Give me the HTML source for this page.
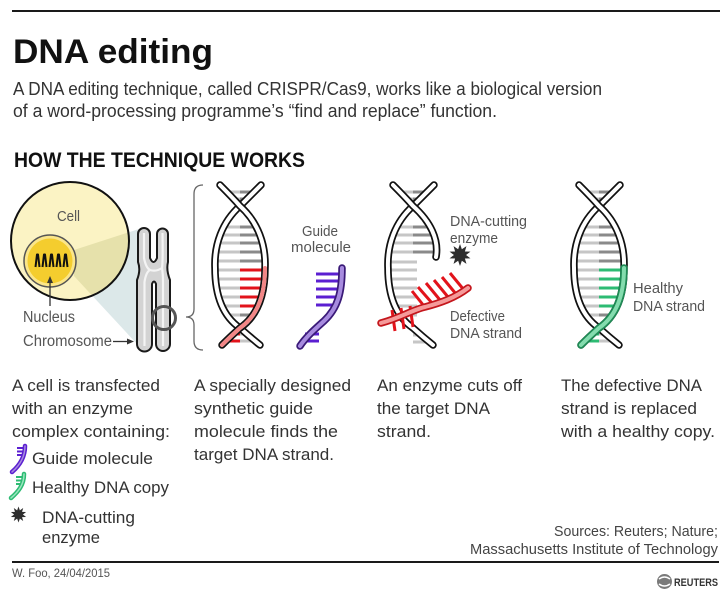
<!DOCTYPE html>
<html><head><meta charset="utf-8"><style>
html,body{margin:0;padding:0;background:#fff;}
svg{display:block;}
text{font-family:"Liberation Sans",sans-serif;}
</style></head><body>
<svg width="728" height="590" viewBox="0 0 728 590" xmlns="http://www.w3.org/2000/svg">
<defs>
<clipPath id="hc"><path d="M220,185 Q232,197 240,206 Q249,197 261,185 Z M240,206 C258,222 266,245 265,268 C265,298 256,317 240,328 C224,317 215,298 215,268 C214,245 222,222 240,206 Z M240,328 Q230,337 222,345 L260,345 Q250,337 240,328 Z"/></clipPath>
<clipPath id="cellc"><ellipse cx="70" cy="241" rx="59" ry="59"/></clipPath>
<path id="star" d="M0,-10 L1.7,-5.23 L5.88,-8.09 L4.45,-3.23 L9.51,-3.09 L5.5,0 L9.51,3.09 L4.45,3.23 L5.88,8.09 L1.7,5.23 L0,10 L-1.7,5.23 L-5.88,8.09 L-4.45,3.23 L-9.51,3.09 L-5.5,0 L-9.51,-3.09 L-4.45,-3.23 L-5.88,-8.09 L-1.7,-5.23 Z"/>
</defs>
<rect width="728" height="590" fill="#fff"/>
<line x1="12" y1="11" x2="720" y2="11" stroke="#1a1a1a" stroke-width="2"/>
<text x="13" y="63" font-size="34" font-weight="bold" fill="#111" textLength="200" lengthAdjust="spacingAndGlyphs">DNA editing</text>
<text x="13" y="95" font-size="18" fill="#333" textLength="589" lengthAdjust="spacingAndGlyphs">A DNA editing technique, called CRISPR/Cas9, works like a biological version</text>
<text x="13" y="117" font-size="18" fill="#333" textLength="484" lengthAdjust="spacingAndGlyphs">of a word-processing programme’s “find and replace” function.</text>
<text x="14" y="167" font-size="21" font-weight="bold" fill="#111" textLength="291" lengthAdjust="spacingAndGlyphs">HOW THE TECHNIQUE WORKS</text>

<!-- Cell -->
<polygon points="74,250 139,229 137,344 74,276" fill="#dce8e9"/>
<ellipse cx="70" cy="241" rx="59" ry="59" fill="#fbf3c4"/>
<polygon points="74,250 139,229 137,344 74,276" fill="#e6e1ab" clip-path="url(#cellc)"/>
<ellipse cx="70" cy="241" rx="59" ry="59" fill="none" stroke="#111" stroke-width="2"/>
<text x="57" y="221" font-size="15" fill="#555" textLength="23" lengthAdjust="spacingAndGlyphs">Cell</text>
<circle cx="50" cy="261" r="26" fill="#fbe68a" stroke="#555" stroke-width="1.5"/>
<circle cx="50" cy="261" r="22.5" fill="#f4cd2e"/>
<g stroke="#111" stroke-width="2" fill="none" stroke-linejoin="round">
<path d="M35.5,267 L37,254.5 L38,254.5 L39.5,267"/>
<path d="M42.5,267 L44,254.5 L45,254.5 L46.5,267"/>
<path d="M49.5,267 L51,254.5 L52,254.5 L53.5,267"/>
<path d="M56.5,267 L58,254.5 L59,254.5 L60.5,267"/>
<path d="M63.5,267 L65,254.5 L66,254.5 L67.5,267"/>
</g>
<line x1="50" y1="306" x2="50" y2="281" stroke="#333" stroke-width="1.3"/>
<polygon points="50,276 47,283 53,283" fill="#333"/>
<text x="23" y="322" font-size="15.5" fill="#555" textLength="52" lengthAdjust="spacingAndGlyphs">Nucleus</text>
<text x="23" y="346" font-size="15.5" fill="#555" textLength="89" lengthAdjust="spacingAndGlyphs">Chromosome</text>
<line x1="113" y1="341.5" x2="129" y2="341.5" stroke="#333" stroke-width="1.3"/>
<polygon points="134,341.5 127,338.5 127,344.5" fill="#333"/>

<!-- Chromosome -->
<path d="M138,234 A6,6 0 0 1 150,234 L150,258 Q153.5,266 157,258 L157,234 A5.5,5.5 0 0 1 168,234 L168,262 Q166,270 170,280 L170,344 A7,7 0 0 1 156,344 L156,284 Q154,279 152,284 L152,344 A7.5,7.5 0 0 1 137,344 L137,280 Q141,270 138,262 Z" fill="#d3d3d3" stroke="#1a1a1a" stroke-width="2"/>
<path d="M144,233 L144,258 Q146,268 150,270 Q156,272 162,268 Q163,262 162.5,233 M144.5,346 L144.5,282 Q146,272 150,270 M162,268 Q163,274 163,282 L163,346" fill="none" stroke="#f4f4f4" stroke-width="2.2"/>
<circle cx="164" cy="318" r="11.5" fill="none" stroke="#555" stroke-width="3"/>

<!-- Brace -->
<path d="M203,185 Q194,185 194,194 L194,309 Q194,317 186,317 Q194,317 194,325 L194,341 Q194,350 203,350" fill="none" stroke="#666" stroke-width="1.3"/>

<!-- Helix 1 -->
<g>
<g clip-path="url(#hc)" stroke-width="3">
<g stroke="#c6c6c6">
<line x1="205" y1="192" x2="240" y2="192"/><line x1="205" y1="199" x2="240" y2="199"/>
<line x1="205" y1="227" x2="240" y2="227"/><line x1="205" y1="235" x2="240" y2="235"/><line x1="205" y1="243" x2="240" y2="243"/><line x1="205" y1="252" x2="240" y2="252"/><line x1="205" y1="261" x2="240" y2="261"/><line x1="205" y1="270" x2="240" y2="270"/><line x1="205" y1="279" x2="240" y2="279"/><line x1="205" y1="288" x2="240" y2="288"/><line x1="205" y1="297" x2="240" y2="297"/><line x1="205" y1="306" x2="240" y2="306"/><line x1="205" y1="315" x2="240" y2="315"/>
<line x1="240" y1="334" x2="275" y2="334"/><line x1="240" y1="341" x2="275" y2="341"/>
</g>
<g stroke="#8a8a8a">
<line x1="240" y1="192" x2="275" y2="192"/><line x1="240" y1="199" x2="275" y2="199"/>
<line x1="240" y1="227" x2="275" y2="227"/><line x1="240" y1="235" x2="275" y2="235"/><line x1="240" y1="243" x2="275" y2="243"/><line x1="240" y1="252" x2="275" y2="252"/><line x1="240" y1="261" x2="275" y2="261"/><line x1="240" y1="315" x2="275" y2="315"/>
</g>
<g stroke="#e2131b">
<line x1="240" y1="270" x2="275" y2="270"/><line x1="240" y1="279" x2="275" y2="279"/><line x1="240" y1="288" x2="275" y2="288"/><line x1="240" y1="297" x2="275" y2="297"/><line x1="240" y1="306" x2="275" y2="306"/>
<line x1="205" y1="334" x2="240" y2="334"/><line x1="205" y1="341" x2="240" y2="341"/>
</g>
</g>
<path d="M261,185 Q249,197 240,206 C222,222 214,245 215,268 C215,298 224,317 240,328 Q250,337 260,345" fill="none" stroke="#111" stroke-width="7.5" stroke-linecap="round"/>
<path d="M261,185 Q249,197 240,206 C222,222 214,245 215,268 C215,298 224,317 240,328 Q250,337 260,345" fill="none" stroke="#fff" stroke-width="4" stroke-linecap="round"/>
<path d="M220,185 Q232,197 240,206 C258,222 266,245 265,268 C265,298 256,317 240,328 Q230,337 222,345" fill="none" stroke="#111" stroke-width="7.5" stroke-linecap="round"/>
<path d="M220,185 Q232,197 240,206 C258,222 266,245 265,268 C265,298 256,317 240,328 Q230,337 222,345" fill="none" stroke="#fff" stroke-width="4" stroke-linecap="round"/>
<path d="M265,268 C265,298 256,317 240,328 Q230,337 222,345" fill="none" stroke="#f28686" stroke-width="4" stroke-linecap="round"/>
</g>

<!-- Guide molecule -->
<text x="302" y="236" font-size="15" fill="#555" textLength="36" lengthAdjust="spacingAndGlyphs">Guide</text>
<text x="291" y="252" font-size="15" fill="#555" textLength="60" lengthAdjust="spacingAndGlyphs">molecule</text>
<g stroke="#5b1fd1" stroke-width="3">
<line x1="316" y1="274" x2="341" y2="274"/><line x1="316" y1="281" x2="341" y2="281"/><line x1="316" y1="289" x2="341" y2="289"/><line x1="316" y1="297" x2="340" y2="297"/><line x1="316" y1="305" x2="339" y2="305"/>
<line x1="305" y1="334" x2="319" y2="334"/><line x1="303" y1="341" x2="319" y2="341"/>
</g>
<path d="M342,268 C342,292 338,308 324,321 C314,330 306,337 300,346" fill="none" stroke="#3a1a78" stroke-width="7.5" stroke-linecap="round"/>
<path d="M342,268 C342,292 338,308 324,321 C314,330 306,337 300,346" fill="none" stroke="#a78bdf" stroke-width="4" stroke-linecap="round"/>

<!-- Helix 3 -->
<g transform="translate(173,0)">
<g clip-path="url(#hc)" stroke-width="3">
<g stroke="#c6c6c6">
<line x1="205" y1="192" x2="240" y2="192"/><line x1="205" y1="199" x2="240" y2="199"/>
<line x1="205" y1="227" x2="240" y2="227"/><line x1="205" y1="235" x2="240" y2="235"/><line x1="205" y1="243" x2="240" y2="243"/><line x1="205" y1="252" x2="240" y2="252"/>
<line x1="205" y1="262" x2="244" y2="262"/><line x1="205" y1="270" x2="244" y2="270"/><line x1="205" y1="279" x2="244" y2="279"/><line x1="205" y1="288" x2="244" y2="288"/><line x1="205" y1="297" x2="244" y2="297"/><line x1="205" y1="306" x2="244" y2="306"/><line x1="205" y1="315" x2="244" y2="315"/>
<line x1="240" y1="335" x2="262" y2="335"/><line x1="240" y1="342" x2="262" y2="342"/>
</g>
<g stroke="#8a8a8a">
<line x1="240" y1="192" x2="275" y2="192"/><line x1="240" y1="199" x2="275" y2="199"/>
<line x1="240" y1="227" x2="275" y2="227"/><line x1="240" y1="235" x2="275" y2="235"/><line x1="240" y1="243" x2="275" y2="243"/><line x1="240" y1="252" x2="275" y2="252"/>
</g>
</g>
<path d="M261,185 Q249,197 240,206 C222,222 214,245 215,268 C215,298 224,317 240,328 Q250,337 260,345" fill="none" stroke="#111" stroke-width="7.5" stroke-linecap="round"/>
<path d="M261,185 Q249,197 240,206 C222,222 214,245 215,268 C215,298 224,317 240,328 Q250,337 260,345" fill="none" stroke="#fff" stroke-width="4" stroke-linecap="round"/>
<path d="M220,185 Q232,197 240,206 C258,222 266,240 263,257" fill="none" stroke="#111" stroke-width="7.5" stroke-linecap="round"/>
<path d="M220,185 Q232,197 240,206 C258,222 266,240 263,257" fill="none" stroke="#fff" stroke-width="4" stroke-linecap="round"/>
</g>
<!-- defective strand -->
<g stroke="#e2131b" stroke-width="3">
<line x1="464" y1="290" x2="450" y2="273"/><line x1="456" y1="294" x2="442" y2="277"/><line x1="448" y1="297" x2="434" y2="280"/><line x1="440" y1="300" x2="426" y2="283"/><line x1="432" y1="303" x2="418" y2="287"/><line x1="424" y1="306" x2="412" y2="291"/>
<line x1="392" y1="310" x2="395" y2="331"/><line x1="401" y1="308" x2="404" y2="329"/><line x1="410" y1="306" x2="413" y2="327"/>
</g>
<path d="M381,323 C400,318 412,310 425,307 C440,303 455,298 468,288" fill="none" stroke="#c4161c" stroke-width="7.5" stroke-linecap="round"/>
<path d="M381,323 C400,318 412,310 425,307 C440,303 455,298 468,288" fill="none" stroke="#f59a9a" stroke-width="4" stroke-linecap="round"/>
<use href="#star" transform="translate(460,255) scale(1.1)" fill="#2e2e2e"/>
<text x="450" y="226" font-size="15" fill="#555" textLength="77" lengthAdjust="spacingAndGlyphs">DNA-cutting</text>
<text x="450" y="243" font-size="15" fill="#555" textLength="48" lengthAdjust="spacingAndGlyphs">enzyme</text>
<text x="450" y="321" font-size="15" fill="#555" textLength="55" lengthAdjust="spacingAndGlyphs">Defective</text>
<text x="450" y="338" font-size="15" fill="#555" textLength="72" lengthAdjust="spacingAndGlyphs">DNA strand</text>

<!-- Helix 4 -->
<g transform="translate(359,0)">
<g clip-path="url(#hc)" stroke-width="3">
<g stroke="#c6c6c6">
<line x1="205" y1="192" x2="240" y2="192"/><line x1="205" y1="199" x2="240" y2="199"/>
<line x1="205" y1="227" x2="240" y2="227"/><line x1="205" y1="235" x2="240" y2="235"/><line x1="205" y1="243" x2="240" y2="243"/><line x1="205" y1="252" x2="240" y2="252"/><line x1="205" y1="261" x2="240" y2="261"/><line x1="205" y1="270" x2="240" y2="270"/><line x1="205" y1="279" x2="240" y2="279"/><line x1="205" y1="288" x2="240" y2="288"/><line x1="205" y1="297" x2="240" y2="297"/><line x1="205" y1="306" x2="240" y2="306"/><line x1="205" y1="315" x2="240" y2="315"/>
<line x1="240" y1="334" x2="275" y2="334"/><line x1="240" y1="341" x2="275" y2="341"/>
</g>
<g stroke="#8a8a8a">
<line x1="240" y1="192" x2="275" y2="192"/><line x1="240" y1="199" x2="275" y2="199"/>
<line x1="240" y1="227" x2="275" y2="227"/><line x1="240" y1="235" x2="275" y2="235"/><line x1="240" y1="243" x2="275" y2="243"/><line x1="240" y1="252" x2="275" y2="252"/><line x1="240" y1="261" x2="275" y2="261"/><line x1="240" y1="315" x2="275" y2="315"/>
</g>
<g stroke="#2dbb73">
<line x1="240" y1="270" x2="275" y2="270"/><line x1="240" y1="279" x2="275" y2="279"/><line x1="240" y1="288" x2="275" y2="288"/><line x1="240" y1="297" x2="275" y2="297"/><line x1="240" y1="306" x2="275" y2="306"/>
<line x1="205" y1="334" x2="240" y2="334"/><line x1="205" y1="341" x2="240" y2="341"/>
</g>
</g>
<path d="M261,185 Q249,197 240,206 C222,222 214,245 215,268 C215,298 224,317 240,328 Q250,337 260,345" fill="none" stroke="#111" stroke-width="7.5" stroke-linecap="round"/>
<path d="M261,185 Q249,197 240,206 C222,222 214,245 215,268 C215,298 224,317 240,328 Q250,337 260,345" fill="none" stroke="#fff" stroke-width="4" stroke-linecap="round"/>
<path d="M220,185 Q232,197 240,206 C258,222 266,245 265,268 C265,298 256,317 240,328 Q230,337 222,345" fill="none" stroke="#111" stroke-width="7.5" stroke-linecap="round"/>
<path d="M220,185 Q232,197 240,206 C258,222 266,245 265,268 C265,298 256,317 240,328 Q230,337 222,345" fill="none" stroke="#fff" stroke-width="4" stroke-linecap="round"/>
<path d="M265,268 C265,298 256,317 240,328 Q230,337 222,345" fill="none" stroke="#1f8a55" stroke-width="7.5" stroke-linecap="round"/>
<path d="M265,268 C265,298 256,317 240,328 Q230,337 222,345" fill="none" stroke="#84dcae" stroke-width="4" stroke-linecap="round"/>
</g>
<text x="633" y="293" font-size="15" fill="#555" textLength="50" lengthAdjust="spacingAndGlyphs">Healthy</text>
<text x="633" y="311" font-size="15" fill="#555" textLength="72" lengthAdjust="spacingAndGlyphs">DNA strand</text>

<!-- Column texts -->
<g font-size="17" fill="#333">
<text x="12" y="391" textLength="148" lengthAdjust="spacingAndGlyphs">A cell is transfected</text>
<text x="12" y="414" textLength="121" lengthAdjust="spacingAndGlyphs">with an enzyme</text>
<text x="12" y="437" textLength="158" lengthAdjust="spacingAndGlyphs">complex containing:</text>
<text x="32" y="464" textLength="121" lengthAdjust="spacingAndGlyphs">Guide molecule</text>
<text x="32" y="493" textLength="137" lengthAdjust="spacingAndGlyphs">Healthy DNA copy</text>
<text x="42" y="523" textLength="93" lengthAdjust="spacingAndGlyphs">DNA-cutting</text>
<text x="42" y="543" textLength="58" lengthAdjust="spacingAndGlyphs">enzyme</text>

<text x="194" y="391" textLength="157" lengthAdjust="spacingAndGlyphs">A specially designed</text>
<text x="194" y="414" textLength="119" lengthAdjust="spacingAndGlyphs">synthetic guide</text>
<text x="194" y="437" textLength="144" lengthAdjust="spacingAndGlyphs">molecule finds the</text>
<text x="194" y="460" textLength="140" lengthAdjust="spacingAndGlyphs">target DNA strand.</text>

<text x="377" y="391" textLength="145" lengthAdjust="spacingAndGlyphs">An enzyme cuts off</text>
<text x="377" y="414" textLength="113" lengthAdjust="spacingAndGlyphs">the target DNA</text>
<text x="377" y="437" textLength="54" lengthAdjust="spacingAndGlyphs">strand.</text>

<text x="561" y="391" textLength="141" lengthAdjust="spacingAndGlyphs">The defective DNA</text>
<text x="561" y="414" textLength="136" lengthAdjust="spacingAndGlyphs">strand is replaced</text>
<text x="561" y="437" textLength="154" lengthAdjust="spacingAndGlyphs">with a healthy copy.</text>
</g>

<!-- Legend icons -->
<g stroke="#5b1fd1" stroke-width="2">
<line x1="17" y1="448" x2="26" y2="448"/><line x1="17" y1="451.5" x2="26" y2="451.5"/><line x1="17" y1="455" x2="25" y2="455"/>
</g>
<path d="M25,446 C25,458 19,466 12,472" fill="none" stroke="#5b1fd1" stroke-width="4.5" stroke-linecap="round"/>
<path d="M25,446 C25,458 19,466 12,472" fill="none" stroke="#a78bdf" stroke-width="1.5" stroke-linecap="round"/>
<g stroke="#2dbb73" stroke-width="2">
<line x1="16" y1="477" x2="25" y2="477"/><line x1="16" y1="480.5" x2="25" y2="480.5"/><line x1="16" y1="484" x2="24" y2="484"/>
</g>
<path d="M24,474 C24,485 18,492 11,498" fill="none" stroke="#2dbb73" stroke-width="4.5" stroke-linecap="round"/>
<path d="M24,474 C24,485 18,492 11,498" fill="none" stroke="#9be6bf" stroke-width="1.5" stroke-linecap="round"/>
<use href="#star" transform="translate(18.5,514.5) scale(0.8)" fill="#2e2e2e"/>

<!-- Sources -->
<text x="554" y="536" font-size="15" fill="#444" textLength="164" lengthAdjust="spacingAndGlyphs">Sources: Reuters; Nature;</text>
<text x="470" y="554" font-size="15" fill="#444" textLength="248" lengthAdjust="spacingAndGlyphs">Massachusetts Institute of Technology</text>

<line x1="12" y1="562" x2="719" y2="562" stroke="#1a1a1a" stroke-width="2"/>
<text x="12" y="577" font-size="12" fill="#555" textLength="98" lengthAdjust="spacingAndGlyphs">W. Foo, 24/04/2015</text>
<circle cx="664.5" cy="581.5" r="7.5" fill="#7a7a7a"/>
<path d="M659,579 Q664.5,575 670,579 M659,584 Q664.5,588 670,584" fill="none" stroke="#fff" stroke-width="1.5"/>
<text x="674" y="586" font-size="11" font-weight="bold" fill="#333" textLength="44" lengthAdjust="spacingAndGlyphs">REUTERS</text>
</svg>
</body></html>
